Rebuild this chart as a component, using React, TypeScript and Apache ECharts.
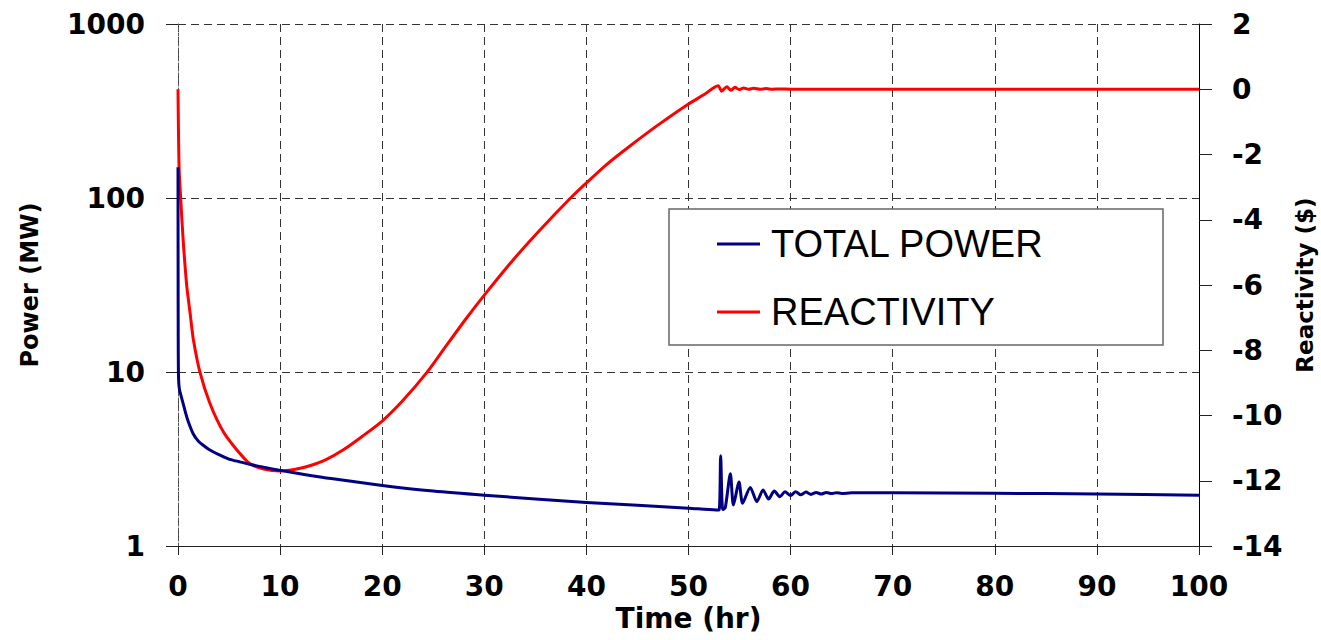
import React, { useEffect, useRef } from "react";
import * as echarts from "echarts";

// ---- Data ----
const xTicks = [0, 10, 20, 30, 40, 50, 60, 70, 80, 90, 100];

const powerTime = [
  0, 0.01, 0.02, 0.04, 0.08, 0.15, 0.3, 0.5, 0.75, 1, 1.5, 2, 2.5, 3, 4, 5, 6, 7, 8.5, 10, 12.5, 15,
  20, 25, 30, 40, 50, 52.7, 53.0, 53.15, 53.35, 53.6, 54.1, 54.4, 54.95, 55.3, 56.05, 56.7, 57.3,
  57.85, 58.4, 58.95, 59.45, 60.0, 60.5, 61.0, 61.5, 62.0, 62.5, 63.0, 63.5, 64.0, 64.5, 65.0, 66,
  70, 80, 90, 100,
];
const powerMW = [
  150, 40, 16, 10, 8.6, 7.9, 7.3, 6.6, 5.8, 5.2, 4.4, 4.0, 3.78, 3.6, 3.35, 3.16, 3.05, 2.95, 2.83,
  2.72, 2.57, 2.44, 2.23, 2.07, 1.96, 1.78, 1.65, 1.61, 1.61, 3.3, 1.62, 1.66, 2.6, 1.72, 2.33, 1.76,
  2.17, 1.8, 2.1, 1.86, 2.07, 1.92, 2.05, 1.95, 2.05, 1.97, 2.04, 1.98, 2.03, 1.99, 2.03, 2.0, 2.025,
  2.005, 2.02, 2.02, 2.01, 1.99, 1.96,
];

const reactTime = [
  0, 0.03, 0.08, 0.13, 0.26, 0.5, 0.85, 1.2, 1.5, 2.15, 3.13, 4.44, 5.75, 7.05, 8.5, 10, 11.5, 12.9,
  14.5, 16.2, 18, 20, 22, 24.4, 26, 28.1, 30, 32.8, 35.5, 38.4, 40, 42, 44.3, 47, 50, 51.5, 52.9,
  53.25, 53.75, 54.15, 54.55, 54.95, 55.4, 55.9, 56.4, 57, 57.6, 58.2, 59, 60, 100,
];
const reactivity = [
  0, -0.9, -2.0, -2.6, -3.33, -4.6, -6.0, -6.9, -7.66, -8.67, -9.63, -10.5, -11.05, -11.48, -11.65,
  -11.7, -11.65, -11.54, -11.35, -11.05, -10.65, -10.17, -9.55, -8.67, -7.98, -7.08, -6.31, -5.24,
  -4.3, -3.35, -2.87, -2.3, -1.73, -1.1, -0.45, -0.17, 0.11, -0.06, 0.08, -0.03, 0.06, -0.01, 0.04, 0,
  0.03, 0, 0.02, 0, 0.01, 0, 0,
];

const powerTicks = [1, 10, 100, 1000];
const reactTicks = [-14, -12, -10, -8, -6, -4, -2, 0, 2];

const seriesNames = ["TOTAL POWER", "REACTIVITY"];

const FONT = "DejaVu Sans";

export default function App() {
  const ref = useRef<HTMLDivElement>(null);

  useEffect(() => {
    if (!ref.current) return;
    const chart = echarts.init(ref.current, null, { renderer: "svg" });

    const gridDash = { color: "#333", width: 1, type: [8, 5] as any };
    const tickLabel = {
      fontFamily: FONT,
      fontWeight: "bold" as const,
      fontSize: 28,
      color: "#000",
    };

    const option: any = {
      animation: false,
      backgroundColor: "#fff",
      grid: {
        left: 178,
        right: 122,
        top: 24,
        bottom: 94,
        containLabel: false,
        outerBoundsMode: "none",
      },
      legend: {
        data: seriesNames,
        orient: "vertical",
        left: 669,
        top: 209,
        icon: "rect",
        itemWidth: 43,
        itemHeight: 3,
        itemGap: 28,
        padding: [15, 44, 13, 48],
        backgroundColor: "#fff",
        borderColor: "#666",
        borderWidth: 1.5,
        borderRadius: 0,
        textStyle: {
          fontFamily: "Liberation Sans",
          fontSize: 38,
          color: "#000",
          lineHeight: 40,
          width: 348,
          padding: [0, 0, 0, 6],
        },
      },
      xAxis: {
        type: "value",
        min: xTicks[0],
        max: xTicks[xTicks.length - 1],
        interval: 10,
        name: "Time (hr)",
        nameLocation: "middle",
        nameGap: 56,
        nameTextStyle: { ...tickLabel, fontSize: 28 },
        axisLine: { show: true, onZero: false, lineStyle: { color: "#222", width: 1 } },
        axisTick: { show: true, length: 9, lineStyle: { color: "#222" } },
        axisLabel: { ...tickLabel, margin: 26 },
        splitLine: { show: true, lineStyle: gridDash },
      },
      yAxis: [
        {
          type: "log",
          logBase: 10,
          min: powerTicks[0],
          max: powerTicks[powerTicks.length - 1],
          name: "Power (MW)",
          nameLocation: "middle",
          nameGap: 136,
          nameTextStyle: { ...tickLabel, fontSize: 24 },
          axisLine: { show: true, onZero: false, lineStyle: { color: "#555", width: 1, type: [3, 2] } },
          axisTick: { show: true, length: 12, lineStyle: { color: "#222" } },
          axisLabel: { ...tickLabel, margin: 33, formatter: (v: number) => String(v) },
          splitLine: { show: true, lineStyle: gridDash },
          minorTick: { show: false },
        },
        {
          type: "value",
          min: reactTicks[0],
          max: reactTicks[reactTicks.length - 1],
          interval: 2,
          position: "right",
          name: "Reactivity ($)",
          nameLocation: "middle",
          nameGap: 94,
          nameTextStyle: { ...tickLabel, fontSize: 23 },
          axisLine: { show: true, onZero: false, lineStyle: { color: "#000", width: 1 } },
          axisTick: { show: true, length: 13, lineStyle: { color: "#222" } },
          axisLabel: { ...tickLabel, margin: 33 },
          splitLine: { show: false },
        },
      ],
      series: [
        {
          name: seriesNames[1],
          type: "line",
          yAxisIndex: 1,
          data: reactTime.map((t, i) => [t, reactivity[i]]),
          showSymbol: false,
          smooth: 0.25,
          lineStyle: { color: "#FF0000", width: 3, join: "round" },
          itemStyle: { color: "#FF0000" },
          z: 2,
        },
        {
          name: seriesNames[0],
          type: "line",
          yAxisIndex: 0,
          data: powerTime.map((t, i) => [t, powerMW[i]]),
          showSymbol: false,
          smooth: 0.25,
          lineStyle: { color: "#000080", width: 3, join: "round" },
          itemStyle: { color: "#000080" },
          z: 3,
        },
      ],
    };

    chart.setOption(option);
    return () => chart.dispose();
  }, []);

  return (
    <div
      ref={ref}
      style={{ position: "fixed", left: 0, top: 0, width: 1321, height: 640 }}
    />
  );
}
